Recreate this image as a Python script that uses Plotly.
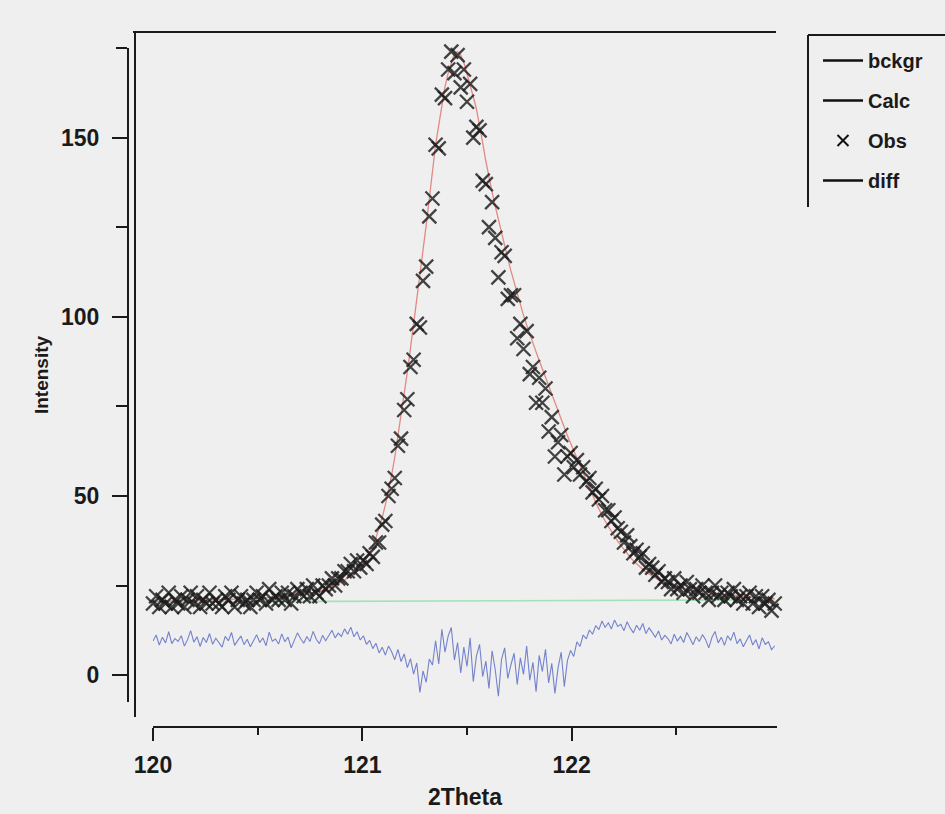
import numpy as np
import plotly.graph_objects as go

# Scan grid: constant 2-theta step
two_theta = np.round(120.0 + 0.015 * np.arange(199), 3)

# Observed counts
obs = [
    20, 22, 19, 21, 20, 23, 19, 21, 20, 22,
    19, 21, 23, 20, 22, 19, 21, 20, 23, 20,
    21, 20, 19, 22, 21, 23, 19, 21, 22, 20,
    21, 19, 21, 23, 21, 22, 20, 24, 21, 22,
    21, 23, 21, 23, 20, 22, 24, 23, 22, 24,
    22, 25, 23, 22, 25, 24, 25, 27, 25, 27,
    27, 29, 29, 31, 29, 32, 30, 32, 31, 34,
    33, 37, 37, 42, 43, 50, 52, 55, 64, 66,
    74, 77, 86, 88, 98, 97, 110, 114, 128, 133,
    148, 147, 162, 161, 169, 174, 168, 173, 164, 169,
    160, 165, 150, 153, 152, 138, 137, 125, 132, 122,
    111, 118, 117, 105, 106, 106, 94, 98, 91, 96,
    84, 86, 76, 83, 76, 80, 68, 72, 61, 65,
    67, 56, 61, 62, 58, 60, 56, 58, 54, 55,
    51, 52, 49, 50, 46, 46, 43, 44, 41, 40,
    37, 39, 36, 34, 35, 33, 34, 30, 31, 30,
    28, 29, 26, 27, 26, 24, 27, 24, 25, 23,
    26, 24, 22, 24, 23, 25, 23, 21, 23, 25,
    22, 23, 21, 23, 22, 24, 21, 22, 20, 22,
    23, 20, 22, 19, 22, 20, 21, 18, 20,
]

# Calculated profile
calc = [
    20.6, 20.6, 20.6, 20.7, 20.7, 20.7, 20.7, 20.7, 20.8, 20.8,
    20.8, 20.8, 20.8, 20.9, 20.9, 20.9, 20.9, 21.0, 21.0, 21.0,
    21.0, 21.0, 21.1, 21.1, 21.1, 21.1, 21.2, 21.2, 21.2, 21.3,
    21.3, 21.3, 21.4, 21.4, 21.5, 21.5, 21.6, 21.6, 21.7, 21.8,
    21.9, 21.9, 22.0, 22.1, 22.2, 22.3, 22.4, 22.5, 22.6, 22.8,
    22.9, 23.1, 23.3, 23.5, 23.7, 24.0, 24.3, 24.6, 25.0, 25.4,
    25.9, 26.5, 27.1, 27.8, 28.6, 29.5, 30.4, 31.4, 32.6, 34.2,
    36.0, 38.3, 41.0, 44.0, 47.5, 51.5, 55.8, 60.8, 66.5, 72.3,
    78.0, 84.6, 91.2, 97.8, 104.6, 111.5, 118.4, 125.5, 133.0, 140.5,
    148.0, 153.4, 158.8, 164.2, 168.0, 171.0, 173.5, 174.0, 173.0, 171.0,
    168.0, 164.7, 161.4, 158.0, 153.6, 148.5, 143.4, 138.7, 134.8, 130.9,
    127.0, 123.4, 119.8, 116.2, 112.8, 109.5, 106.2, 103.1, 100.4, 97.7,
    95.0, 92.6, 90.2, 87.8, 85.4, 83.0, 80.6, 78.2, 75.8, 73.4,
    71.0, 68.9, 66.8, 64.7, 62.6, 60.5, 58.4, 56.3, 54.2, 52.1,
    50.0, 48.2, 46.4, 44.6, 43.0, 41.5, 40.0, 38.6, 37.4, 36.2,
    35.0, 33.9, 32.9, 31.9, 31.0, 30.2, 29.5, 28.8, 28.2, 27.6,
    27.0, 26.6, 26.3, 26.0, 25.7, 25.4, 25.1, 24.9, 24.6, 24.3,
    24.1, 23.8, 23.7, 23.5, 23.4, 23.2, 23.1, 23.0, 22.9, 22.8,
    22.6, 22.5, 22.4, 22.3, 22.2, 22.1, 22.0, 22.0, 21.9, 21.9,
    21.8, 21.8, 21.7, 21.7, 21.6, 21.5, 21.5, 21.4, 21.4,
]

# Difference curve (offset below the pattern)
diff = [
    9.5, 11.2, 8.4, 10.6, 9.0, 12.1, 8.8, 10.2, 9.4, 11.0,
    8.1, 9.9, 12.4, 9.2, 10.7, 8.0, 10.5, 9.1, 11.6, 8.6,
    10.3, 9.0, 7.8, 10.8, 9.6, 11.9, 8.3, 9.7, 10.9, 8.5,
    10.0, 7.9, 9.8, 11.3, 9.1, 10.4, 8.2, 12.0, 9.5, 10.1,
    8.7, 11.5, 9.3, 10.6, 7.6, 9.9, 11.8, 10.2, 8.9, 10.8,
    9.4, 12.2, 10.0, 8.8, 11.1, 9.6, 10.9, 12.5, 10.4, 11.7,
    10.8, 12.9, 11.4, 13.4, 10.7, 12.1, 9.8, 11.0, 8.6, 9.7,
    7.4, 8.9, 6.2, 7.8, 5.6, 8.1, 6.5, 4.3, 7.2, 3.8,
    5.9, 2.1, 4.6, 0.3, 3.4, -4.8, 1.2, -2.0, 4.5, 2.8,
    9.6, 3.1, 12.8, 6.4, 10.9, 13.3, 4.2, 9.1, 0.6, 7.8,
    2.4, 10.4, -1.8, 5.3, 8.6, -0.4, 3.9, -3.7, 6.8, 1.5,
    -5.9, 4.4, 7.6, -0.9, 2.9, 6.1, -2.6, 4.8, 0.2, 8.1,
    -1.4, 3.6, -4.6, 5.5, 1.0, 7.2, -2.2, 3.3, -5.1, 2.0,
    6.4, -3.2, 4.1, 6.9, 5.2, 9.3, 8.0, 11.2, 10.1, 12.6,
    11.4, 13.8, 12.7, 15.1, 13.3, 14.6, 12.9, 15.4, 13.6, 14.2,
    12.4, 14.9, 13.1, 11.8, 13.9, 12.5, 14.4, 11.6, 13.2, 12.0,
    10.6, 12.3, 9.8, 11.1, 10.2, 8.7, 11.4, 9.5, 10.8, 9.1,
    11.9, 10.3, 8.5, 10.7, 9.4, 11.3, 9.9, 7.6, 10.5, 12.2,
    9.0, 10.6, 8.3, 11.0, 9.7, 12.0, 8.8, 10.1, 7.9, 9.6,
    11.2, 8.4, 9.9, 7.3, 10.4, 8.6, 9.3, 7.1, 8.2,
]

# Background (linear)
bckgr_x = [120.0, 122.97]
bckgr_y = [20.4, 21.0]

x_ticks = [120, 121, 122]
y_ticks = [0, 50, 100, 150]

BG = "#efefef"
INK = "#1a1a1a"
NARROW = "Liberation Sans Narrow, Arial Narrow, Liberation Sans, Arial, sans-serif"

fig = go.Figure()

fig.add_trace(go.Scatter(x=bckgr_x, y=bckgr_y, mode="lines",
                         line=dict(color="#a3e2b5", width=1.6),
                         showlegend=False, hoverinfo="skip"))
fig.add_trace(go.Scatter(x=two_theta, y=diff, mode="lines",
                         line=dict(color="#7482cc", width=1.1),
                         showlegend=False))
fig.add_trace(go.Scatter(x=two_theta, y=calc, mode="lines",
                         line=dict(color="#e38984", width=1.3),
                         showlegend=False))
fig.add_trace(go.Scatter(x=two_theta, y=obs, mode="markers",
                         marker=dict(symbol="x-thin", size=14,
                                     line=dict(color="rgba(28,28,28,0.82)", width=2.3)),
                         cliponaxis=False, showlegend=False))

# Legend entries (drawn in black)
legend_items = [("bckgr", "lines"), ("Calc", "lines"), ("Obs", "markers"), ("diff", "lines")]
for i, (name, mode) in enumerate(legend_items):
    fig.add_trace(go.Scatter(
        x=[None], y=[None], mode=mode, name=name, legendgroup=f"g{i}",
        line=dict(color="#111111", width=2.4),
        marker=dict(symbol="x-thin", size=11, line=dict(color="#111111", width=2)),
    ))

W_PLOT = 649
H_PLOT = 679

def px_x(p):
    return (p - 128) / W_PLOT

def px_y(p):
    return (727 - p) / H_PLOT

shapes = [
    # frame: top and left edges
    dict(type="line", xref="paper", yref="paper", x0=px_x(133), x1=px_x(776),
         y0=px_y(32), y1=px_y(32), line=dict(color=INK, width=2)),
    dict(type="line", xref="paper", yref="paper", x0=px_x(135), x1=px_x(135),
         y0=px_y(717), y1=px_y(32), line=dict(color=INK, width=2)),
    # legend box edges
    dict(type="line", xref="paper", yref="paper", x0=px_x(808), x1=px_x(945),
         y0=px_y(35), y1=px_y(35), line=dict(color=INK, width=2)),
    dict(type="line", xref="paper", yref="paper", x0=px_x(808), x1=px_x(808),
         y0=px_y(207), y1=px_y(35), line=dict(color=INK, width=2)),
]

fig.update_layout(
    width=945, height=814,
    margin=dict(l=128, r=945 - 777, t=48, b=814 - 727, autoexpand=False),
    paper_bgcolor=BG, plot_bgcolor=BG,
    font=dict(family="Liberation Sans, Arial, sans-serif", color=INK),
    shapes=shapes,
    showlegend=True,
    legend=dict(x=px_x(818), y=px_y(41), xanchor="left", yanchor="top",
                bgcolor="rgba(0,0,0,0)", borderwidth=0, tracegroupgap=11,
                font=dict(family=NARROW, size=20, color=INK, weight="bold"),
                itemwidth=40),
    xaxis=dict(
        range=[120, 122.981], domain=[px_x(153), 1.0], anchor="free", position=0,
        showline=True, linecolor=INK, linewidth=2, showgrid=False, zeroline=False,
        tickmode="array", tickvals=x_ticks, ticktext=[str(v) for v in x_ticks],
        ticks="outside", ticklen=13, tickwidth=2, tickcolor=INK,
        minor=dict(ticks="outside", tickvals=[120.5, 121.5, 122.5], ticklen=7,
                   tickwidth=2, tickcolor=INK, showgrid=False),
        tickfont=dict(size=23, weight="bold", color=INK),
        ticklabelstandoff=4,
        title=dict(text="2Theta", font=dict(family=NARROW, size=23, weight="bold", color=INK),
                   standoff=11),
        automargin=False,
    ),
    yaxis=dict(
        range=[-7.5, 175], domain=[px_y(702), 1.0], anchor="free", position=0,
        showline=True, linecolor=INK, linewidth=2, showgrid=False, zeroline=False,
        tickmode="array", tickvals=y_ticks, ticktext=[str(v) for v in y_ticks],
        ticks="outside", ticklen=15, tickwidth=2, tickcolor=INK,
        minor=dict(ticks="outside", tickvals=[25, 75, 125, 175], ticklen=11,
                   tickwidth=2, tickcolor=INK, showgrid=False),
        tickfont=dict(size=23, weight="bold", color=INK),
        ticklabelstandoff=8,
        title=dict(text="Intensity", font=dict(family=NARROW, size=19, weight="bold", color=INK),
                   standoff=6),
        automargin=False,
    ),
)

fig.write_html("out.html")
